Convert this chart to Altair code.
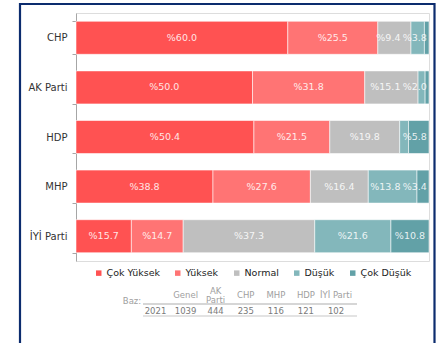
import altair as alt
import pandas as pd

# Party rows (top to bottom) and response levels (left to right)
parties = ["CHP", "AK Parti", "HDP", "MHP", "İYİ Parti"]
levels = ["Çok Yüksek", "Yüksek", "Normal", "Düşük", "Çok Düşük"]
colors = ["#FF5252", "#FF7474", "#BFBFBF", "#83B7BB", "#62A1A7"]

# Share of each level per party (%)
cok_yuksek = [60.0, 50.0, 50.4, 38.8, 15.7]
yuksek = [25.5, 31.8, 21.5, 27.6, 14.7]
normal = [9.4, 15.1, 19.8, 16.4, 37.3]
dusuk = [3.8, 2.0, 2.5, 13.8, 21.6]
cok_dusuk = [1.3, 1.1, 5.8, 3.4, 10.8]

# Segments too thin to carry a label
unlabeled = {("CHP", "Çok Düşük"), ("AK Parti", "Çok Düşük"), ("HDP", "Düşük")}

# Sample sizes ("Baz") table
base_cols = ["", "Genel", "AK\nParti", "CHP", "MHP", "HDP", "İYİ Parti"]
base_vals = [2021, 1039, 444, 235, 116, 121, 102]

series = [cok_yuksek, yuksek, normal, dusuk, cok_dusuk]
rows = []
for k, (lvl, vals) in enumerate(zip(levels, series)):
    for p, v in zip(parties, vals):
        rows.append({
            "party": p,
            "level": lvl,
            "k": k,
            "value": v,
            "label": "" if (p, lvl) in unlabeled else f"%{v:.1f}",
        })
df = pd.DataFrame(rows)

# Header cells split into lines: single-line ones sit centred, two-line ones stack
head_rows = []
for c, n in zip(base_cols, base_vals):
    parts = c.split("\n")
    head_rows.append({
        "col": c,
        "n": str(n),
        "single": parts[0] if len(parts) == 1 else "",
        "first": parts[0] if len(parts) > 1 else "",
        "second": parts[1] if len(parts) > 1 else "",
    })
table = pd.DataFrame(head_rows)

W, H = 353, 248
FONT = "DejaVu Sans"

base = alt.Chart(df).transform_window(
    cum="sum(value)", sort=[alt.SortField("k")], groupby=["party"],
    frame=[None, 0]
).transform_joinaggregate(
    total="sum(value)", groupby=["party"]
).transform_calculate(
    x0="(datum.cum - datum.value) / datum.total",
    x1="datum.cum / datum.total",
    xm="(datum.cum - datum.value / 2) / datum.total",
)

y_enc = alt.Y(
    "party:N",
    sort=parties,
    title=None,
    scale=alt.Scale(paddingInner=0.335, paddingOuter=0.1675),
    axis=alt.Axis(
        tickBand="extent", tickSize=4, domainColor="#A6A6A6", tickColor="#A6A6A6",
        labelFontSize=10, labelColor="#333333", labelPadding=5, labelFont=FONT,
    ),
)
x_scale = alt.Scale(domain=[0, 1], nice=False, zero=True)

bars = base.mark_bar(stroke="white", strokeOpacity=0.55, strokeWidth=1).encode(
    x=alt.X("x0:Q", scale=x_scale, axis=None),
    x2="x1:Q",
    y=y_enc,
    color=alt.Color(
        "level:N",
        scale=alt.Scale(domain=levels, range=colors),
        legend=alt.Legend(
            title=None, orient="none", direction="horizontal",
            legendX=18, legendY=255, symbolType="square", symbolSize=30,
            symbolStrokeWidth=0, labelFontSize=9.5, labelColor="#222222",
            labelFont=FONT, labelOffset=3, columnPadding=13,
        ),
    ),
    order="k:Q",
)

# Segment labels: centred in their segment, kept inside the bar's right end
# and nudged left when they would run into the next label.
labels = base.transform_filter(
    "datum.label != ''"
).transform_calculate(
    hw=f"3.05 * length(datum.label)",
).transform_calculate(
    c1=f"min(datum.xm * {W}, {W} - datum.hw - 2)",
).transform_window(
    nc="lead(c1)", nhw="lead(hw)", sort=[alt.SortField("k")], groupby=["party"],
).transform_calculate(
    xt=f"(isValid(datum.nc) ? min(datum.c1, datum.nc - datum.nhw - 2 - datum.hw) : datum.c1) / {W}",
).mark_text(
    fontSize=9.5, color="white", opacity=0.85, font=FONT, baseline="middle"
).encode(
    x=alt.X("xt:Q", scale=x_scale, axis=None),
    y=alt.Y("party:N", sort=parties),
    text="label:N",
)

col_scale = alt.Scale(domain=base_cols, range=[79.5, 260], padding=0)
col_x = alt.X("col:N", scale=col_scale, axis=None, sort=base_cols)

head_style = dict(fontSize=8.5, color="#A0A0A0", font=FONT, baseline="middle")

head_single = alt.Chart(table).mark_text(**head_style).encode(
    x=col_x, y=alt.value(282), text="single:N"
)
head_first = alt.Chart(table).mark_text(**head_style).encode(
    x=col_x, y=alt.value(277.5), text="first:N"
)
head_second = alt.Chart(table).mark_text(**head_style).encode(
    x=col_x, y=alt.value(286.5), text="second:N"
)

counts = alt.Chart(table).mark_text(
    fontSize=8.5, color="#7A7A7A", font=FONT, baseline="middle"
).encode(x=col_x, y=alt.value(298), text="n:N")

one = alt.Data(values=[{"t": "Baz:"}])

baz = alt.Chart(one).mark_text(
    fontSize=8.5, color="#A0A0A0", font=FONT, baseline="middle"
).encode(x=alt.value(56), y=alt.value(288), text="t:N")

rule_top = alt.Chart(one).mark_rule(color="#C8C8C8", strokeWidth=1.5).encode(
    x=alt.value(67), x2=alt.value(281), y=alt.value(291)
)
rule_bottom = alt.Chart(one).mark_rule(color="#C8C8C8", strokeWidth=1.2).encode(
    x=alt.value(67), x2=alt.value(281), y=alt.value(303)
)

frame = alt.Chart(one).mark_rect(
    fill="transparent", stroke="#0C2C6E", strokeWidth=2.2
).encode(
    x=alt.value(-56), x2=alt.value(358.5), y=alt.value(-9), y2=alt.value(345)
)

chart = alt.layer(
    bars, labels, head_single, head_first, head_second, counts, baz,
    rule_top, rule_bottom, frame
).resolve_scale(
    x="independent"
).properties(
    width=W,
    height=H,
    autosize=alt.AutoSizeParams(type="none"),
    padding={"left": 76, "top": 13, "right": 9, "bottom": 82},
).configure_view(
    stroke=None
).configure(
    font=FONT, background="white"
)

chart.save("out.html", embed_options={"renderer": "svg", "actions": False})
